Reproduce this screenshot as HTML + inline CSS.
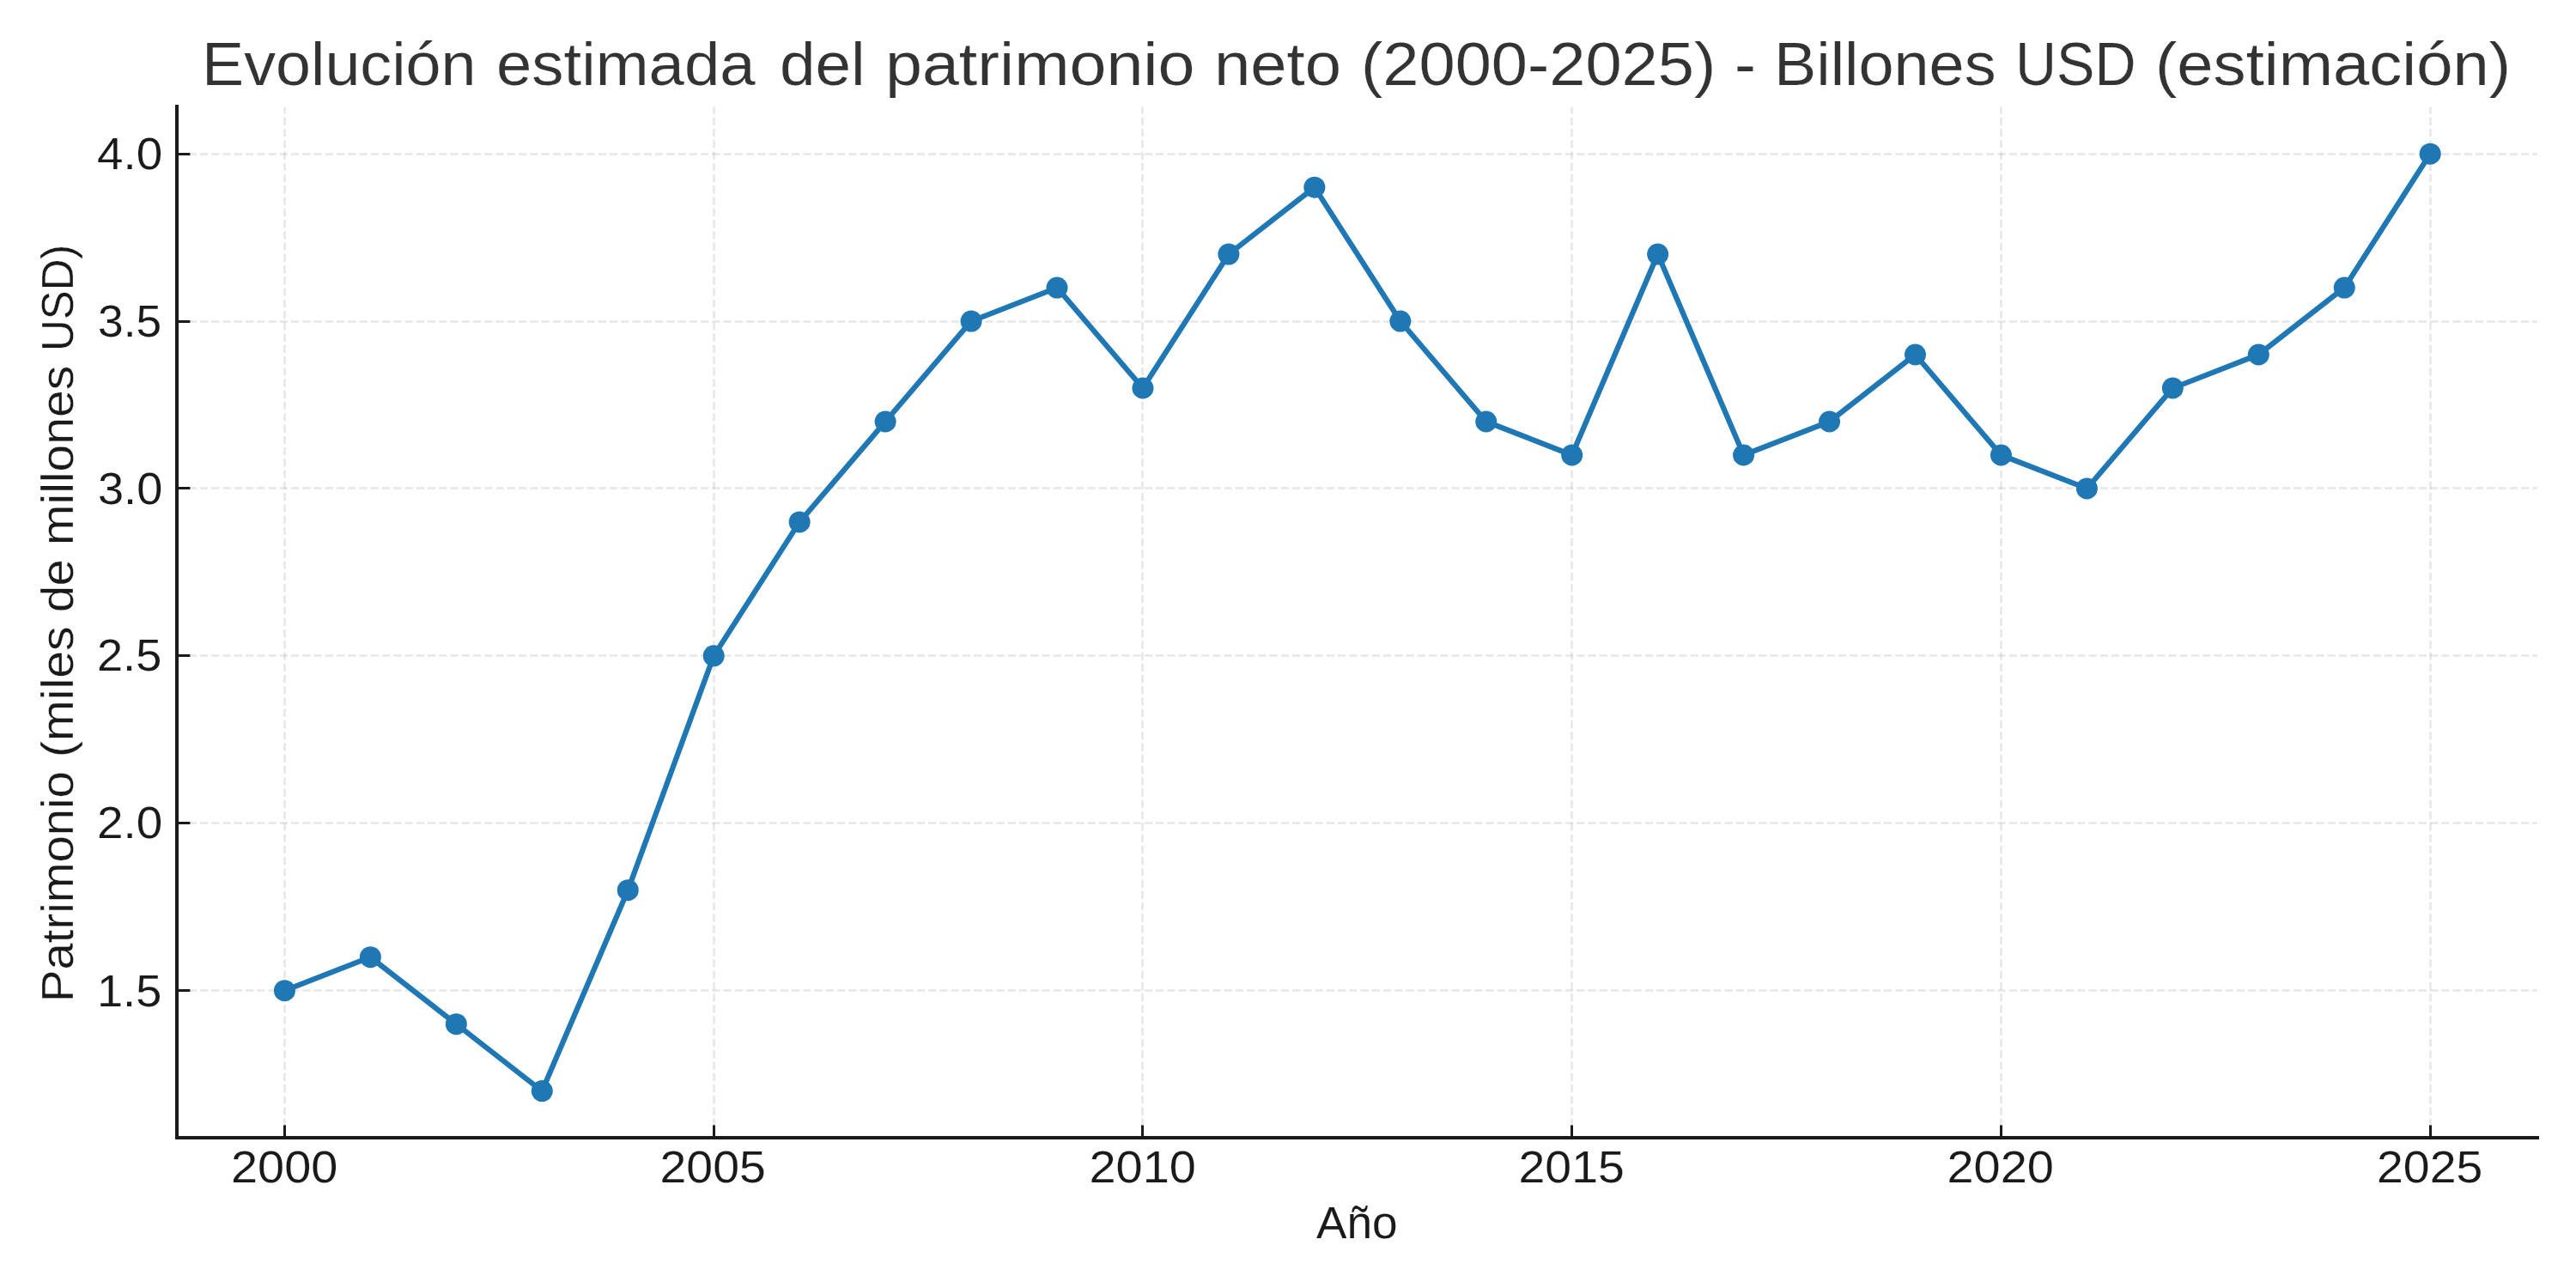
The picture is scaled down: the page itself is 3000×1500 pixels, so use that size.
<!DOCTYPE html>
<html lang="es">
<head>
<meta charset="utf-8">
<title>Evolución estimada del patrimonio neto (2000-2025)</title>
<style>
html,body{margin:0;padding:0;background:#ffffff;}
body{width:3000px;height:1500px;position:relative;}
svg{display:block;position:absolute;left:0;top:0;}
text{font-family:"Liberation Sans",sans-serif;font-weight:400;font-style:normal;}
.grid line{stroke:#b0b0b0;stroke-opacity:0.3;stroke-width:2.5;stroke-dasharray:9.25 4;fill:none;}
.tick line{stroke:#1a1a1a;stroke-width:3;}
.title text{fill:#333333;font-size:70.6px;}
.lbl text{fill:#1a1a1a;font-size:52.6px;}
text{stroke:#ffffff;}
</style>
</head>
<body>
<svg width="3000" height="1500" viewBox="0 0 3000 1500">
<rect x="0" y="0" width="3000" height="1500" fill="#ffffff"/>
<!-- grid -->
<g class="grid">
<line x1="331.5" y1="1325.3" x2="331.5" y2="124.5"/>
<line x1="831.5" y1="1325.3" x2="831.5" y2="124.5"/>
<line x1="1330.5" y1="1325.3" x2="1330.5" y2="124.5"/>
<line x1="1830.5" y1="1325.3" x2="1830.5" y2="124.5"/>
<line x1="2330.5" y1="1325.3" x2="2330.5" y2="124.5"/>
<line x1="2830.5" y1="1325.3" x2="2830.5" y2="124.5"/>
<line x1="206.5" y1="1153.5" x2="2955" y2="1153.5"/>
<line x1="206.5" y1="958.5" x2="2955" y2="958.5"/>
<line x1="206.5" y1="763.5" x2="2955" y2="763.5"/>
<line x1="206.5" y1="568.5" x2="2955" y2="568.5"/>
<line x1="206.5" y1="374.5" x2="2955" y2="374.5"/>
<line x1="206.5" y1="179.5" x2="2955" y2="179.5"/>
</g>
<!-- ticks -->
<g class="tick">
<line x1="331.5" y1="1325" x2="331.5" y2="1310.4"/>
<line x1="831.5" y1="1325" x2="831.5" y2="1310.4"/>
<line x1="1330.5" y1="1325" x2="1330.5" y2="1310.4"/>
<line x1="1830.5" y1="1325" x2="1830.5" y2="1310.4"/>
<line x1="2330.5" y1="1325" x2="2330.5" y2="1310.4"/>
<line x1="2830.5" y1="1325" x2="2830.5" y2="1310.4"/>
<line x1="206" y1="1153.5" x2="221.4" y2="1153.5"/>
<line x1="206" y1="958.5" x2="221.4" y2="958.5"/>
<line x1="206" y1="763.5" x2="221.4" y2="763.5"/>
<line x1="206" y1="568.5" x2="221.4" y2="568.5"/>
<line x1="206" y1="374.5" x2="221.4" y2="374.5"/>
<line x1="206" y1="179.5" x2="221.4" y2="179.5"/>
</g>
<!-- data series -->
<polyline points="331.45,1153.65 431.4,1114.67 531.35,1192.63 631.3,1270.59 731.25,1036.71 831.2,763.85 931.15,607.93 1031.1,490.99 1131.05,374.05 1231,335.07 1330.95,452.01 1430.9,296.09 1530.85,218.13 1630.8,374.05 1730.75,490.99 1830.7,529.97 1930.65,296.09 2030.6,529.97 2130.55,490.99 2230.5,413.03 2330.45,529.97 2430.4,568.95 2530.35,452.01 2630.3,413.03 2730.25,335.07 2830.2,179.15" fill="none" stroke="#1f77b4" stroke-width="6.25" stroke-linejoin="round" stroke-linecap="butt"/>
<g fill="#1f77b4">
<circle cx="331.45" cy="1153.65" r="12.5"/>
<circle cx="431.4" cy="1114.67" r="12.5"/>
<circle cx="531.35" cy="1192.63" r="12.5"/>
<circle cx="631.3" cy="1270.59" r="12.5"/>
<circle cx="731.25" cy="1036.71" r="12.5"/>
<circle cx="831.2" cy="763.85" r="12.5"/>
<circle cx="931.15" cy="607.93" r="12.5"/>
<circle cx="1031.1" cy="490.99" r="12.5"/>
<circle cx="1131.05" cy="374.05" r="12.5"/>
<circle cx="1231" cy="335.07" r="12.5"/>
<circle cx="1330.95" cy="452.01" r="12.5"/>
<circle cx="1430.9" cy="296.09" r="12.5"/>
<circle cx="1530.85" cy="218.13" r="12.5"/>
<circle cx="1630.8" cy="374.05" r="12.5"/>
<circle cx="1730.75" cy="490.99" r="12.5"/>
<circle cx="1830.7" cy="529.97" r="12.5"/>
<circle cx="1930.65" cy="296.09" r="12.5"/>
<circle cx="2030.6" cy="529.97" r="12.5"/>
<circle cx="2130.55" cy="490.99" r="12.5"/>
<circle cx="2230.5" cy="413.03" r="12.5"/>
<circle cx="2330.45" cy="529.97" r="12.5"/>
<circle cx="2430.4" cy="568.95" r="12.5"/>
<circle cx="2530.35" cy="452.01" r="12.5"/>
<circle cx="2630.3" cy="413.03" r="12.5"/>
<circle cx="2730.25" cy="335.07" r="12.5"/>
<circle cx="2830.2" cy="179.15" r="12.5"/>
</g>
<!-- spines -->
<rect x="204" y="122" width="4" height="1205" fill="#1a1a1a"/>
<rect x="204" y="1323" width="2753" height="4" fill="#1a1a1a"/>
<!-- title -->
<g class="title" stroke-width="0.21">
<text x="235" y="98.6" textLength="319.58" lengthAdjust="spacingAndGlyphs">Evolución</text>
<text x="578" y="98.6" textLength="301.65" lengthAdjust="spacingAndGlyphs">estimada</text>
<text x="908" y="98.6" textLength="99.7" lengthAdjust="spacingAndGlyphs">del</text>
<text x="1031" y="98.6" textLength="360.42" lengthAdjust="spacingAndGlyphs">patrimonio</text>
<text x="1414" y="98.6" textLength="148.07" lengthAdjust="spacingAndGlyphs">neto</text>
<text x="1585" y="98.6" textLength="413.26" lengthAdjust="spacingAndGlyphs">(2000-2025)</text>
<text x="2020" y="98.6" textLength="24.9" lengthAdjust="spacingAndGlyphs">-</text>
<text x="2066" y="98.6" textLength="258.6" lengthAdjust="spacingAndGlyphs">Billones</text>
<text x="2347" y="98.6" textLength="140.48" lengthAdjust="spacingAndGlyphs">USD</text>
<text x="2510" y="98.6" textLength="414.1" lengthAdjust="spacingAndGlyphs">(estimación)</text>
</g>
<!-- x tick labels -->
<g class="lbl" stroke-width="0.15">
<text x="269" y="1376.8" textLength="124.33" lengthAdjust="spacingAndGlyphs">2000</text>
<text x="768.5" y="1376.8" textLength="123.29" lengthAdjust="spacingAndGlyphs">2005</text>
<text x="1268.5" y="1376.8" textLength="124.37" lengthAdjust="spacingAndGlyphs">2010</text>
<text x="1768.5" y="1376.8" textLength="123.29" lengthAdjust="spacingAndGlyphs">2015</text>
<text x="2267.5" y="1376.8" textLength="124.37" lengthAdjust="spacingAndGlyphs">2020</text>
<text x="2768" y="1376.8" textLength="123.29" lengthAdjust="spacingAndGlyphs">2025</text>
</g>
<!-- y tick labels -->
<g class="lbl" stroke-width="0.13">
<text x="113" y="196.6" textLength="76.25" lengthAdjust="spacingAndGlyphs">4.0</text>
<text x="114" y="391.6" textLength="74.18" lengthAdjust="spacingAndGlyphs">3.5</text>
<text x="114" y="586.6" textLength="75.24" lengthAdjust="spacingAndGlyphs">3.0</text>
<text x="113" y="781" textLength="75.27" lengthAdjust="spacingAndGlyphs">2.5</text>
<text x="113" y="976" textLength="76.35" lengthAdjust="spacingAndGlyphs">2.0</text>
<text x="113" y="1172.4" textLength="75.3" lengthAdjust="spacingAndGlyphs">1.5</text>
</g>
<!-- x axis label -->
<g class="lbl" stroke-width="0.09">
<text x="1533" y="1441.9" textLength="94.62" lengthAdjust="spacingAndGlyphs">Año</text>
</g>
<!-- y axis label -->
<g class="lbl" stroke-width="0.29">
<text x="85.2" y="1167" transform="rotate(-90 85.2 1167)" textLength="268.84" lengthAdjust="spacingAndGlyphs">Patrimonio</text>
<text x="85.2" y="882" transform="rotate(-90 85.2 882)" textLength="152.72" lengthAdjust="spacingAndGlyphs">(miles</text>
<text x="85.2" y="713" transform="rotate(-90 85.2 713)" textLength="61.77" lengthAdjust="spacingAndGlyphs">de</text>
<text x="85.2" y="635" transform="rotate(-90 85.2 635)" textLength="209.43" lengthAdjust="spacingAndGlyphs">millones</text>
<text x="85.2" y="409" transform="rotate(-90 85.2 409)" textLength="124.31" lengthAdjust="spacingAndGlyphs">USD)</text>
</g>
</svg>
</body>
</html>
